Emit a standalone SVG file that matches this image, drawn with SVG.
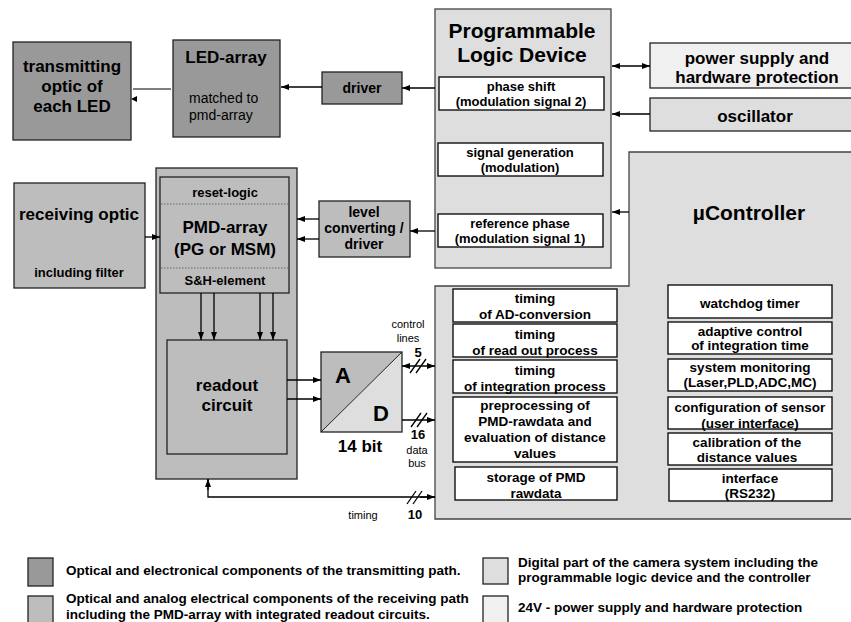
<svg xmlns="http://www.w3.org/2000/svg" width="851" height="622" viewBox="0 0 851 622">
<defs>
<style>
text{font-family:"Liberation Sans",Arial,Helvetica,sans-serif;font-weight:bold;text-anchor:middle;fill:#000}
.n{font-weight:normal}
.l{text-anchor:start}
.s11{font-size:11px}.s13{font-size:13px}.s135{font-size:13.5px}.s14{font-size:14px}.s17{font-size:17px}.s21{font-size:21px}.s22{font-size:22px}
.tx{fill:#999;stroke:#222;stroke-width:1.3}
.rx{fill:#bdbdbd;stroke:#222;stroke-width:1.3}
.dg{fill:#dedede;stroke:#444;stroke-width:1.3}
.pw{fill:#f0f0f0;stroke:#222;stroke-width:1.3}
.wb{fill:#fff;stroke:#111;stroke-width:1.4}
.c{stroke:#000;stroke-width:1.3;fill:none}
.ar{marker-end:url(#ah)}
.br{marker-start:url(#ah);marker-end:url(#ah)}
.dot{stroke:#666;stroke-width:1;stroke-dasharray:1.5 1.5}
</style>
<marker id="ah" viewBox="0 0 8 6" refX="8" refY="3" markerWidth="8" markerHeight="6" markerUnits="userSpaceOnUse" orient="auto-start-reverse">
<path d="M0,0 L8,3 L0,6 z" fill="#000"/>
</marker>
</defs>

<g id="transmitting-optic">
<rect class="tx" x="13" y="42" width="118" height="98"/>
<text class="s17" x="72" y="72">transmitting</text>
<text class="s17" x="72" y="92">optic of</text>
<text class="s17" x="72" y="112">each LED</text>
</g>

<g id="led-array">
<rect class="tx" x="173" y="40" width="107" height="97"/>
<text class="s17" x="226" y="63">LED-array</text>
<text class="n s14 l" x="189" y="103">matched to</text>
<text class="n s14 l" x="189" y="120">pmd-array</text>
</g>

<g id="driver">
<rect class="tx" x="322" y="72" width="80" height="32"/>
<text class="s14" x="362" y="93">driver</text>
</g>

<g id="pld">
<rect class="dg" x="435" y="9" width="176" height="259"/>
<text class="s21" x="522" y="38">Programmable</text>
<text class="s21" x="522" y="62">Logic Device</text>
<rect class="wb" x="439" y="77" width="165" height="33"/>
<text class="s13" x="521" y="91">phase shift</text>
<text class="s13" x="521" y="106">(modulation signal 2)</text>
<rect class="wb" x="438" y="143" width="165" height="33"/>
<text class="s13" x="520" y="157">signal generation</text>
<text class="s13" x="520" y="172">(modulation)</text>
<rect class="wb" x="438" y="214" width="165" height="33"/>
<text class="s13" x="520" y="228">reference phase</text>
<text class="s13" x="520" y="243">(modulation signal 1)</text>
</g>

<g id="power-supply">
<rect class="pw" x="650" y="43" width="215" height="45"/>
<text class="s17" x="757" y="64">power supply and</text>
<text class="s17" x="757" y="83">hardware protection</text>
</g>

<g id="oscillator">
<rect class="dg" x="650" y="98" width="215" height="33" style="stroke:#222"/>
<text class="s17" x="755" y="122">oscillator</text>
</g>

<g id="controller">
<polygon class="dg" points="629,152 870,152 870,519 435,519 435,286 629,286"/>
<text class="s21" x="749" y="220">µController</text>
<rect class="wb" x="453" y="289" width="164" height="33"/>
<text class="s135" x="535" y="303">timing</text>
<text class="s135" x="535" y="319">of AD-conversion</text>
<rect class="wb" x="453" y="324" width="164" height="33"/>
<text class="s135" x="535" y="339">timing</text>
<text class="s135" x="535" y="355">of read out process</text>
<rect class="wb" x="453" y="360" width="164" height="33"/>
<text class="s135" x="535" y="375">timing</text>
<text class="s135" x="535" y="391">of integration process</text>
<rect class="wb" x="453" y="397" width="164" height="65"/>
<text class="s135" x="535" y="410">preprocessing of</text>
<text class="s135" x="535" y="426">PMD-rawdata and</text>
<text class="s135" x="535" y="442">evaluation of distance</text>
<text class="s135" x="535" y="458">values</text>
<rect class="wb" x="455" y="467" width="162" height="33"/>
<text class="s135" x="536" y="482">storage of PMD</text>
<text class="s135" x="536" y="498">rawdata</text>
<rect class="wb" x="668" y="285" width="164" height="33"/>
<text class="s135" x="750" y="308">watchdog timer</text>
<rect class="wb" x="668" y="322" width="164" height="32"/>
<text class="s135" x="750" y="336">adaptive control</text>
<text class="s135" x="750" y="350">of integration time</text>
<rect class="wb" x="668" y="359" width="164" height="32"/>
<text class="s135" x="750" y="372">system monitoring</text>
<text class="s135" x="750" y="387">(Laser,PLD,ADC,MC)</text>
<rect class="wb" x="668" y="397" width="164" height="32"/>
<text class="s135" x="750" y="412">configuration of sensor</text>
<text class="s135" x="750" y="428">(user interface)</text>
<rect class="wb" x="668" y="433" width="164" height="32"/>
<text class="s135" x="747" y="447">calibration of the</text>
<text class="s135" x="747" y="462">distance values</text>
<rect class="wb" x="669" y="469" width="163" height="32"/>
<text class="s135" x="750" y="483">interface</text>
<text class="s135" x="750" y="498">(RS232)</text>
</g>

<g id="receiving-optic">
<rect class="rx" x="14" y="183" width="131" height="105"/>
<text class="s17" x="79" y="220">receiving optic</text>
<text class="s13" x="79" y="277">including filter</text>
</g>

<g id="pmd-module">
<rect class="rx" x="156" y="168" width="141" height="311"/>
<rect class="rx" x="160" y="177" width="129" height="116"/>
<line class="dot" x1="161" y1="204" x2="288" y2="204"/>
<line class="dot" x1="161" y1="268" x2="288" y2="268"/>
<text class="s13" x="225" y="197">reset-logic</text>
<text class="s17" x="225" y="233">PMD-array</text>
<text class="s17" x="225" y="255">(PG or MSM)</text>
<text class="s13" x="225" y="285">S&amp;H-element</text>
</g>

<g id="readout-circuit">
<rect class="rx" x="167" y="340" width="120" height="114"/>
<text class="s17" x="227" y="391">readout</text>
<text class="s17" x="227" y="411">circuit</text>
</g>

<g id="level-converter">
<rect class="rx" x="319" y="201" width="91" height="56"/>
<text class="s14" x="364" y="217">level</text>
<text class="s14" x="364" y="233">converting /</text>
<text class="s14" x="364" y="249">driver</text>
</g>

<g id="ad-converter">
<polygon points="321,352 402,352 321,432" fill="#bdbdbd"/>
<polygon points="402,352 402,432 321,432" fill="#dedede"/>
<rect x="321" y="352" width="81" height="80" fill="none" stroke="#222" stroke-width="1.3"/>
<line x1="321" y1="432" x2="402" y2="352" stroke="#222" stroke-width="1"/>
<text class="s22" x="343" y="383">A</text>
<text class="s22" x="381" y="421">D</text>
<text class="s17" x="360" y="452">14 bit</text>
</g>

<g id="connectors">
<line class="c" x1="171" y1="89" x2="133" y2="89" style="stroke:#555"/>
<polygon points="131,99 137,96 137,102" fill="#000"/>
<line class="c ar" x1="322" y1="87" x2="281" y2="87"/>
<line class="c ar" x1="435" y1="88" x2="402" y2="88"/>
<line class="c br" x1="612" y1="66" x2="650" y2="66"/>
<line class="c ar" x1="650" y1="114" x2="612" y2="114"/>
<line class="c ar" x1="629" y1="212" x2="612" y2="212"/>
<line class="c ar" x1="435" y1="231" x2="410" y2="231"/>
<line class="c ar" x1="319" y1="219" x2="297" y2="219"/>
<line class="c ar" x1="319" y1="239" x2="297" y2="239"/>
<line class="c ar" x1="145" y1="237" x2="160" y2="237"/>
<line class="c ar" x1="201" y1="293" x2="201" y2="340"/>
<line class="c ar" x1="214" y1="293" x2="214" y2="340"/>
<line class="c ar" x1="260" y1="293" x2="260" y2="340"/>
<line class="c ar" x1="273" y1="293" x2="273" y2="340"/>
<line class="c ar" x1="287" y1="380" x2="321" y2="380"/>
<line class="c ar" x1="287" y1="399" x2="321" y2="399"/>
<line class="c br" x1="402" y1="366" x2="435" y2="366"/>
<line class="c" x1="410" y1="373" x2="420" y2="359"/>
<line class="c" x1="416" y1="373" x2="426" y2="359"/>
<line class="c ar" x1="402" y1="420" x2="435" y2="420"/>
<line class="c" x1="411" y1="427" x2="421" y2="413"/>
<line class="c" x1="417" y1="427" x2="427" y2="413"/>
<polyline class="c ar" points="435,497 208,497 208,479" style="marker-end:none"/>
<line class="c ar" x1="208" y1="490" x2="208" y2="479"/>
<line class="c ar" x1="420" y1="497" x2="435" y2="497"/>
<line class="c" x1="407" y1="504" x2="416" y2="491"/>
<line class="c" x1="413" y1="504" x2="422" y2="491"/>
</g>

<g id="connector-labels">
<text class="n s11" x="408" y="328">control</text>
<text class="n s11" x="408" y="342">lines</text>
<text class="s13" x="418" y="357">5</text>
<text class="s13" x="418" y="439">16</text>
<text class="n s11" x="417" y="454">data</text>
<text class="n s11" x="417" y="467">bus</text>
<text class="n s11" x="363" y="519">timing</text>
<text class="s13" x="415" y="519">10</text>
</g>

<g id="legend">
<rect class="tx" x="28" y="558" width="25" height="28"/>
<text class="s135 l" x="66" y="575">Optical and electronical components of the transmitting path.</text>
<rect class="rx" x="28" y="596" width="25" height="30"/>
<text class="s135 l" x="66" y="603">Optical and analog electrical components of the receiving path</text>
<text class="s135 l" x="66" y="619">including the PMD-array with integrated readout circuits.</text>
<rect class="dg" x="483" y="558" width="25" height="26" style="stroke:#222"/>
<text class="s135 l" x="518" y="567">Digital part of the camera system including the</text>
<text class="s135 l" x="518" y="582">programmable logic device and the controller</text>
<rect class="pw" x="483" y="596" width="25" height="30"/>
<text class="s135 l" x="518" y="612">24V - power supply and  hardware protection</text>
</g>
</svg>
